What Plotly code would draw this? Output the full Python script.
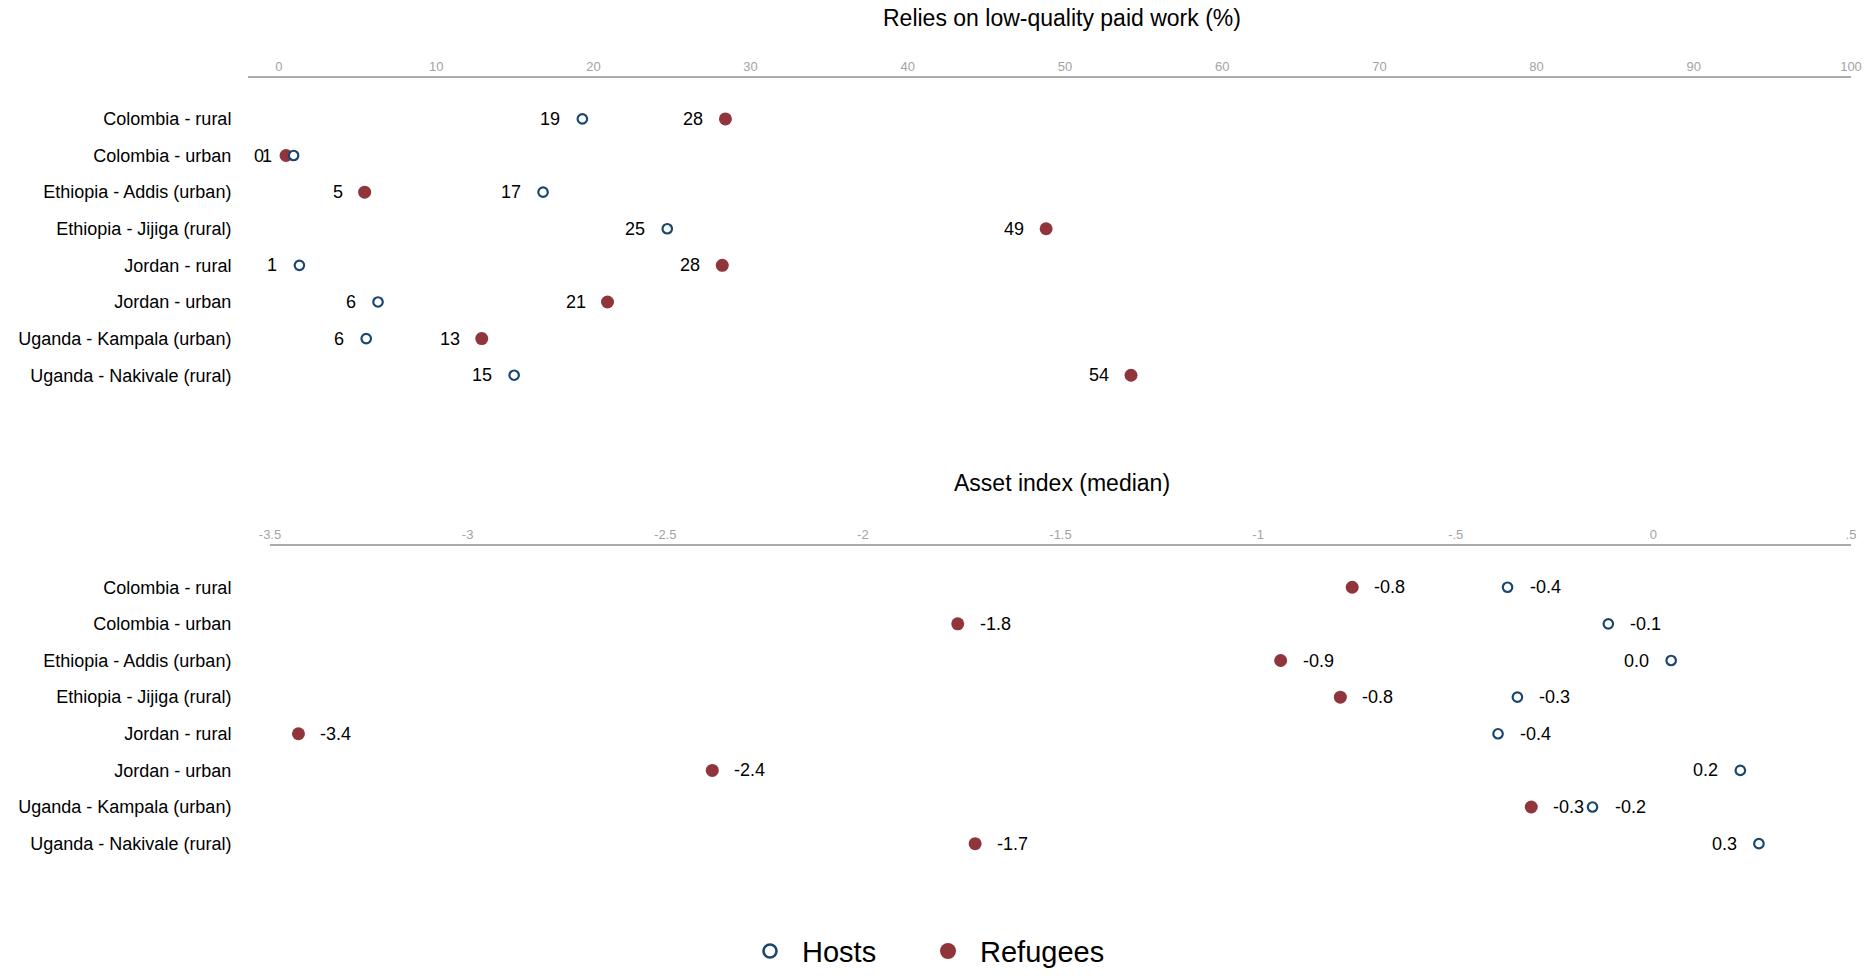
import plotly.graph_objects as go

# ---------------- data ----------------
categories = [
    "Colombia - rural",
    "Colombia - urban",
    "Ethiopia - Addis (urban)",
    "Ethiopia - Jijiga (rural)",
    "Jordan - rural",
    "Jordan - urban",
    "Uganda - Kampala (urban)",
    "Uganda - Nakivale (rural)",
]
work_hosts = [19.3, 0.93, 16.8, 24.7, 1.3, 6.3, 5.55, 14.96]
work_refugees = [28.4, 0.45, 5.45, 48.8, 28.2, 20.9, 12.9, 54.2]
asset_hosts = [-0.369, -0.114, 0.045, -0.344, -0.393, 0.220, -0.154, 0.267]
asset_refugees = [-0.762, -1.76, -0.943, -0.792, -3.428, -2.381, -0.309, -1.716]

work_ticks = [0, 10, 20, 30, 40, 50, 60, 70, 80, 90, 100]
asset_ticks = [-3.5, -3, -2.5, -2, -1.5, -1, -0.5, 0, 0.5]
asset_ticklabels = ["-3.5", "-3", "-2.5", "-2", "-1.5", "-1", "-.5", "0", ".5"]

title_work = "Relies on low-quality paid work (%)"
title_asset = "Asset index (median)"
series_names = ["Hosts", "Refugees"]

# ---------------- style ----------------
FONT = "Liberation Sans, Arial, sans-serif"
NAVY = "#1a476f"
MAROON = "#90353b"
TICKGRAY = "#a3a3a3"
LINEGRAY = "#ababab"
W, H = 1870, 977


def py(y):
    """paper fraction for a pixel row measured from the top"""
    return 1 - y / H


fig = go.Figure()


def add_panel(xa, ya, hosts, refs):
    fig.add_trace(go.Scatter(
        x=refs, y=categories, mode="markers", xaxis=xa, yaxis=ya,
        marker=dict(symbol="circle", size=13, color=MAROON, line=dict(width=0)),
        showlegend=False, hoverinfo="x+y", name=series_names[1]))
    fig.add_trace(go.Scatter(
        x=hosts, y=categories, mode="markers", xaxis=xa, yaxis=ya,
        marker=dict(symbol="circle", size=9.5, color="white",
                    line=dict(width=2.2, color=NAVY)),
        showlegend=False, hoverinfo="x+y", name=series_names[0]))


add_panel("x", "y", work_hosts, work_refugees)
add_panel("x2", "y2", asset_hosts, asset_refugees)

# legend-only entries (one legend box each)
fig.add_trace(go.Scatter(x=[None], y=[None], mode="markers", name=series_names[0],
                         legend="legend",
                         marker=dict(symbol="circle", size=13, color="white",
                                     line=dict(width=2.6, color=NAVY))))
fig.add_trace(go.Scatter(x=[None], y=[None], mode="markers", name=series_names[1],
                         legend="legend2",
                         marker=dict(symbol="circle", size=16, color=MAROON)))

annotations = []
LABEL_FONT = dict(family=FONT, size=18, color="black")
GAP = 20
for cat, v in zip(categories, work_hosts):
    annotations.append(dict(x=v, y=cat, xref="x", yref="y", text=f"{v:.0f}",
                            showarrow=False, xanchor="right", xshift=-GAP, font=LABEL_FONT))
for cat, v in zip(categories, work_refugees):
    annotations.append(dict(x=v, y=cat, xref="x", yref="y", text=f"{v:.0f}",
                            showarrow=False, xanchor="right", xshift=-GAP, font=LABEL_FONT))
for cat, v in zip(categories, asset_hosts):
    left = v >= 0
    annotations.append(dict(x=v, y=cat, xref="x2", yref="y2", text=f"{v:.1f}",
                            showarrow=False, xanchor="right" if left else "left",
                            xshift=-GAP if left else GAP, font=LABEL_FONT))
for cat, v in zip(categories, asset_refugees):
    left = v >= 0
    annotations.append(dict(x=v, y=cat, xref="x2", yref="y2", text=f"{v:.1f}",
                            showarrow=False, xanchor="right" if left else "left",
                            xshift=-GAP if left else GAP, font=LABEL_FONT))

TITLE_FONT = dict(family=FONT, size=23, color="black")
annotations.append(dict(x=1062 / W, y=py(18), xref="paper", yref="paper",
                        text=title_work, showarrow=False, xanchor="center",
                        yanchor="middle", font=TITLE_FONT))
annotations.append(dict(x=1062 / W, y=py(487), xref="paper", yref="paper",
                        text=title_asset, showarrow=False, xanchor="center",
                        yanchor="middle", font=TITLE_FONT))

xcommon = dict(side="top", showline=True, linecolor=LINEGRAY, linewidth=1.5,
               showgrid=False, zeroline=False, ticks="", automargin=False,
               tickfont=dict(family=FONT, size=13, color=TICKGRAY))
ycommon = dict(showline=False, showgrid=False, zeroline=False, automargin=False,
               ticks="outside", tickcolor="rgba(0,0,0,0)",
               tickfont=dict(family=FONT, size=18, color="black"),
               type="category", categoryorder="array", categoryarray=categories)

LEG_FONT = dict(family=FONT, size=29, color="black")
fig.update_layout(
    width=W, height=H, autosize=False,
    margin=dict(l=0, r=0, t=0, b=0),
    paper_bgcolor="white", plot_bgcolor="white",
    font=dict(family=FONT),
    xaxis=dict(xcommon, domain=[248 / W, 1851 / W], range=[-1.97, 100],
               tickvals=work_ticks, anchor="y"),
    yaxis=dict(ycommon, domain=[py(420), py(78.7)], range=[8.117, -1.117],
               ticklen=12, anchor="x"),
    xaxis2=dict(xcommon, domain=[270 / W, 1851 / W], range=[-3.5, 0.5],
                tickvals=asset_ticks, ticktext=asset_ticklabels, anchor="y2"),
    yaxis2=dict(ycommon, domain=[py(893.2), py(551)], range=[8.128, -1.128],
                ticklen=34, anchor="x2"),
    annotations=annotations,
    legend=dict(orientation="h", x=738 / W, xanchor="left", y=py(960),
                yanchor="middle", font=LEG_FONT, itemwidth=54,
                bgcolor="rgba(0,0,0,0)"),
    legend2=dict(orientation="h", x=916 / W, xanchor="left", y=py(960),
                 yanchor="middle", font=LEG_FONT, itemwidth=54,
                 bgcolor="rgba(0,0,0,0)"),
    showlegend=True,
)

fig.write_html(
    "out.html",
    config={"displayModeBar": False, "responsive": False},
    post_script="document.body.style.margin='0';document.documentElement.style.margin='0';",
)
